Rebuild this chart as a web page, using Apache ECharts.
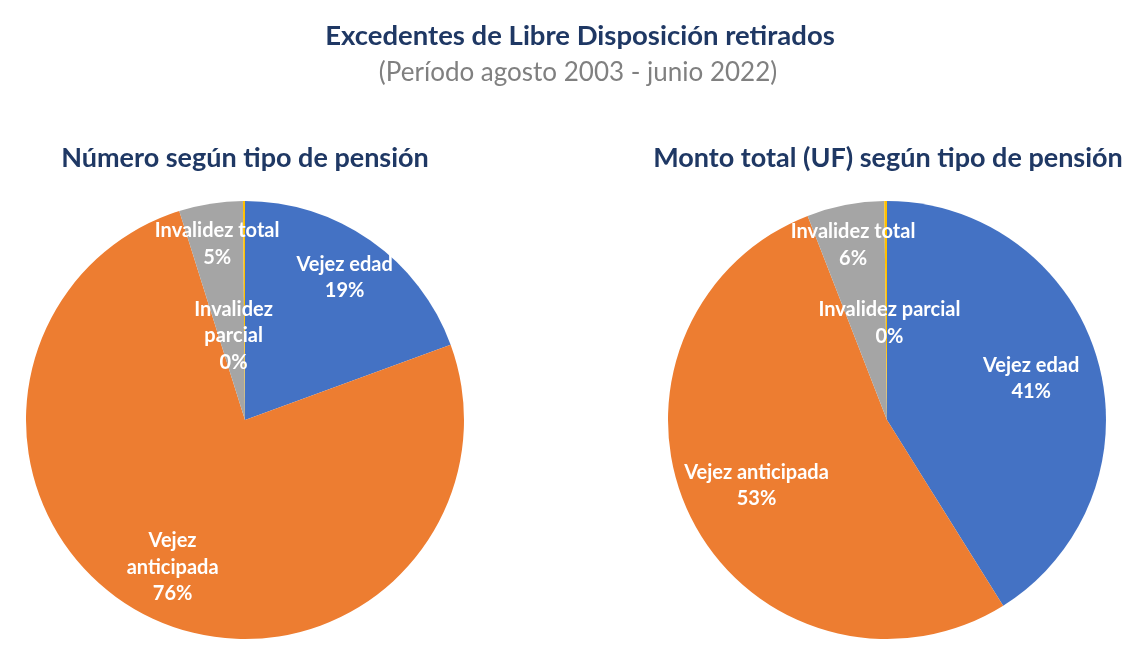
<!DOCTYPE html>
<html>
<head>
<meta charset="utf-8">
<title>Excedentes de Libre Disposición retirados</title>
<script src="https://cdn.jsdelivr.net/npm/echarts@6/dist/echarts.min.js"></script>
<style>
  html, body { margin: 0; padding: 0; background: #fff; }
  #chart { width: 1130px; height: 650px; }
</style>
</head>
<body>
<div id="chart"></div>
<script>
// tipos de pensión (orden de las porciones, sentido horario desde arriba)
const categories = ['Vejez edad', 'Vejez anticipada', 'Invalidez total', 'Invalidez parcial']
// % del número de retiros
const numeroValues = [19.4, 75.7, 4.7, 0.15]
// % del monto total (UF)
const montoValues = [41.1, 53.0, 5.7, 0.2]
// textos de etiqueta en cada gráfico
const numeroLabels = ['Vejez edad', 'Vejez\nanticipada', 'Invalidez total', 'Invalidez\nparcial']
const montoLabels = ['Vejez edad', 'Vejez anticipada', 'Invalidez total', 'Invalidez parcial']

const colors = ['#4472C4', '#ED7D31', '#A5A5A5', '#FFC000']
const FONT = 'Lato, "Open Sans", sans-serif'
const R = 219

// distancia de la etiqueta al centro (px) y corrección horizontal, por porción
const numeroLabelPos = { r: [174, 164, 178, 84], dx: [0, 0, 0, -11] }
const montoLabelPos = { r: [150, 146, 178, 97], dx: [0, 0, 0, 3] }

const chart = echarts.init(document.getElementById('chart'))

const makePie = (center, values, labels, pos) => {
  const total = values.reduce((a, b) => a + b, 0)
  return {
    type: 'pie',
    center: center,
    radius: [0, R],
    startAngle: 90,
    clockwise: true,
    percentPrecision: 0,
    silent: true,
    animation: false,
    itemStyle: { borderWidth: 0 },
    data: categories.map((name, i) => ({
      name: name,
      value: values[i],
      itemStyle: { color: colors[i] },
      label: { formatter: labels[i] + '\n{d}%' }
    })),
    label: {
      show: true,
      position: 'inside',
      color: '#fff',
      fontFamily: FONT,
      fontWeight: 'bold',
      fontSize: 20,
      lineHeight: 26.5,
      align: 'center'
    },
    labelLine: { show: false },
    // coloca la etiqueta sobre el ángulo medio de su porción
    labelLayout: function (params) {
      const i = params.dataIndex
      let cum = 0
      for (let j = 0; j < i; j++) cum += values[j]
      const mid = (cum + values[i] / 2) / total * Math.PI * 2
      return {
        x: center[0] + pos.r[i] * Math.sin(mid) + pos.dx[i],
        y: center[1] - pos.r[i] * Math.cos(mid),
        align: 'center',
        verticalAlign: 'middle'
      }
    }
  }
}

const titleStyle = { fontFamily: FONT, fontSize: 27.5, fontWeight: 'bold', color: '#1F3864' }
const chartTitleStyle = { fontFamily: FONT, fontSize: 27, fontWeight: 'bold', color: '#1F3864' }

const option = {
  backgroundColor: '#fff',
  title: [
    {
      text: 'Excedentes de Libre Disposición retirados',
      left: 580,
      top: 22,
      padding: 0,
      textAlign: 'center',
      textStyle: titleStyle
    },
    {
      text: '(Período agosto 2003 - junio 2022)',
      left: 578,
      top: 60,
      padding: 0,
      textAlign: 'center',
      textStyle: { fontFamily: FONT, fontSize: 26, fontWeight: 'normal', color: '#808080' }
    },
    {
      text: 'Número según tipo de pensión',
      left: 245,
      top: 145,
      padding: 0,
      textAlign: 'center',
      textStyle: chartTitleStyle
    },
    {
      text: 'Monto total (UF) según tipo de pensión',
      left: 888,
      top: 145,
      padding: 0,
      textAlign: 'center',
      textStyle: chartTitleStyle
    }
  ],
  series: [
    makePie([245, 420], numeroValues, numeroLabels, numeroLabelPos),
    makePie([887, 420], montoValues, montoLabels, montoLabelPos)
  ]
}

chart.setOption(option)
</script>
</body>
</html>
